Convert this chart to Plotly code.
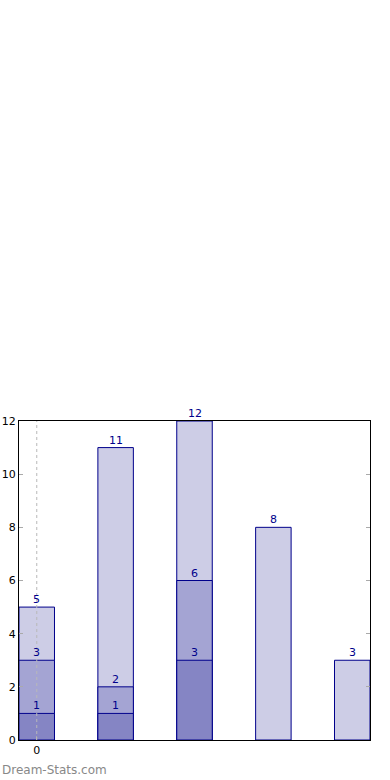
import plotly.graph_objects as go

categories = [0, 1, 2, 3, 4]
series_top = [5, 11, 12, 8, 3]
series_mid = [3, 2, 6, None, None]
series_low = [1, 1, 3, None, None]
x_tick_vals = [0]
x_tick_text = ["0"]

colors = ["#cdcde6", "#a4a4d3", "#8585c4"]
edge = "#00008b"

fig = go.Figure()
for vals, col in zip([series_top, series_mid, series_low], colors):
    fig.add_trace(go.Bar(x=categories, y=vals, width=0.45, marker=dict(color=col, line=dict(color=edge, width=1)),
                         hoverinfo="skip"))
    for xv, yv in zip(categories, vals):
        if yv is not None:
            fig.add_annotation(x=xv, y=yv, text=str(yv), showarrow=False, yanchor="bottom", yshift=-1,
                               font=dict(family="DejaVu Sans", size=11, color=edge))

# dotted grid line drawn above the bars at each x tick
for tv in x_tick_vals:
    fig.add_shape(type="line", xref="x", yref="paper", x0=tv, x1=tv, y0=0, y1=1, layer="above",
                  line=dict(color="#b8b8b8", width=1, dash="dot"))

W, H = 390, 780
l, r, t, b = 19, 20, 421, 40
pw, ph = W - l - r, H - t - b
fig.add_annotation(xref="paper", yref="paper", x=-l / pw, y=(740 - 770) / ph, xanchor="left", yanchor="middle",
                   text="Dream-Stats.com", showarrow=False,
                   font=dict(family="DejaVu Sans", size=12, color="#888888"))

fig.update_layout(
    width=W, height=H, barmode="overlay", showlegend=False,
    margin=dict(l=l, r=r, t=t, b=b, autoexpand=False),
    plot_bgcolor="white", paper_bgcolor="white",
    font=dict(family="DejaVu Sans", size=11, color="black"),
)
fig.update_xaxes(range=[-0.225, 4.225], tickvals=x_tick_vals, ticktext=x_tick_text, showline=True, linecolor="black",
                 linewidth=1, mirror=True, ticks="inside", ticklen=4, tickcolor="#aaaaaa", automargin=False,
                 showgrid=False, zeroline=False, layer="above traces")
fig.update_yaxes(range=[0, 12], dtick=2, showline=True, linecolor="black", linewidth=1, mirror="ticks",
                 ticks="inside", ticklen=4, tickcolor="#aaaaaa", showgrid=False, zeroline=False, automargin=False,
                 layer="above traces")
fig.write_html("out.html", config={"displayModeBar": False}, post_script="document.body.style.margin='0';")
